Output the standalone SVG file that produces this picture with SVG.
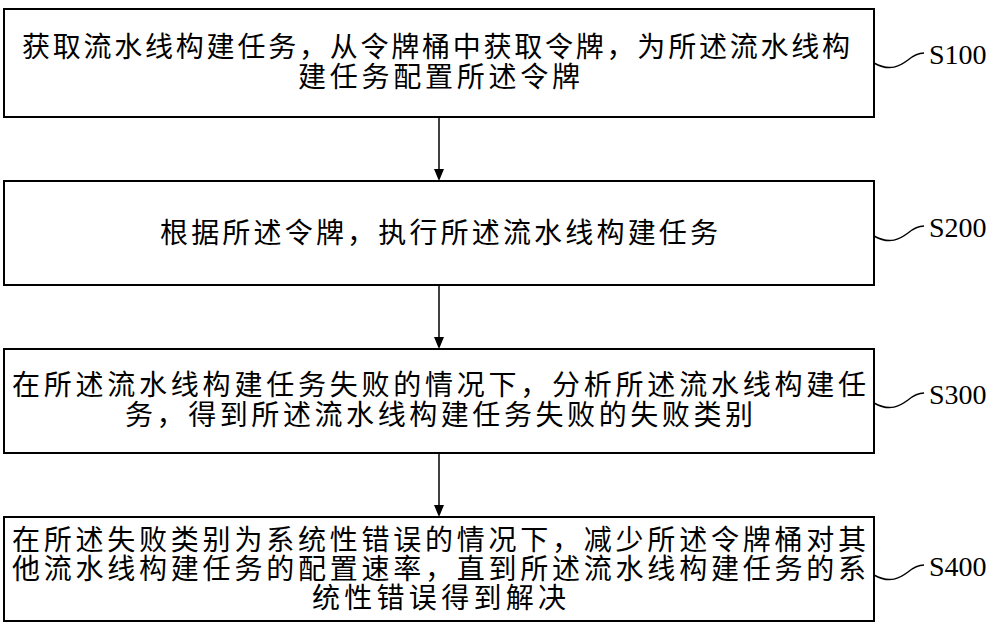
<svg xmlns="http://www.w3.org/2000/svg" width="1000" height="628" viewBox="0 0 1000 628">
<style>
.b{fill:#fff;stroke:#000;stroke-width:2}
.t{font-family:"Liberation Serif","Noto Sans CJK SC",serif;font-size:28px;fill:#000}
.l{font-family:"Liberation Serif",serif;font-size:28px;fill:#000}
.c{fill:none;stroke:#000;stroke-width:1.5}
</style>
<rect width="1000" height="628" fill="#fff"/>
<g id="n1"><rect class="b" x="4" y="9" width="870" height="108"/>
<text class="t" x="22" y="57" textLength="828" lengthAdjust="spacing">获取流水线构建任务，从令牌桶中获取令牌，为所述流水线构</text>
<text class="t" x="298" y="87" textLength="282" lengthAdjust="spacing">建任务配置所述令牌</text></g>
<g id="n2"><rect class="b" x="4" y="181" width="870" height="104"/>
<text class="t" x="160" y="243" textLength="558" lengthAdjust="spacing">根据所述令牌，执行所述流水线构建任务</text></g>
<g id="n3"><rect class="b" x="4" y="349" width="870" height="104"/>
<text class="t" x="12" y="395" textLength="854" lengthAdjust="spacing">在所述流水线构建任务失败的情况下，分析所述流水线构建任</text>
<text class="t" x="125" y="425" textLength="628" lengthAdjust="spacing">务，得到所述流水线构建任务失败的失败类别</text></g>
<g id="n4"><rect class="b" x="4" y="517" width="870" height="104"/>
<text class="t" x="12" y="550" textLength="854" lengthAdjust="spacing">在所述失败类别为系统性错误的情况下，减少所述令牌桶对其</text>
<text class="t" x="12" y="579" textLength="854" lengthAdjust="spacing">他流水线构建任务的配置速率，直到所述流水线构建任务的系</text>
<text class="t" x="312" y="608" textLength="254" lengthAdjust="spacing">统性错误得到解决</text></g>
<g id="connectors">
<path class="c" d="M439,117 V170"/><path d="M434,169 L444,169 L439,181 Z"/>
<path class="c" d="M439,285 V338"/><path d="M434,337 L444,337 L439,349 Z"/>
<path class="c" d="M439,453 V506"/><path d="M434,505 L444,505 L439,517 Z"/>
<path class="c" d="M874,63 C890,72 900,66 908,60 C914,55 918,53 924,53"/>
<path class="c" d="M874,236 C890,245 900,239 908,233 C914,228 918,226 924,226"/>
<path class="c" d="M874,403 C890,412 900,406 908,400 C914,395 918,393 924,393"/>
<path class="c" d="M874,575 C890,584 900,578 908,572 C914,567 918,565 924,565"/>
</g>
<text class="l" x="929" y="64">S100</text>
<text class="l" x="929" y="237">S200</text>
<text class="l" x="929" y="404">S300</text>
<text class="l" x="929" y="576">S400</text>
</svg>
